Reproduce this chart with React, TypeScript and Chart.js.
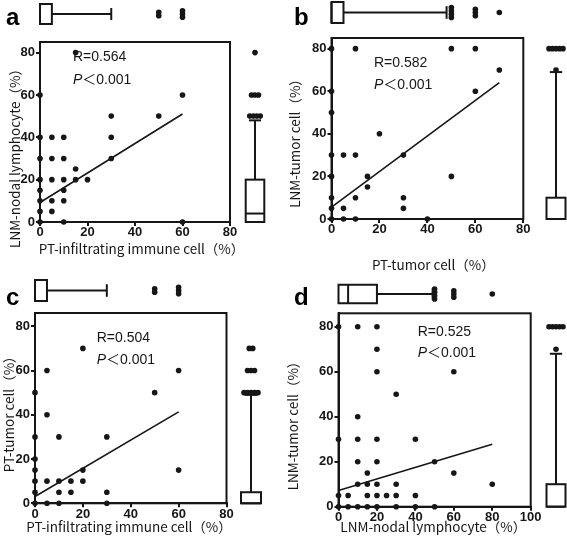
import React, { useEffect, useRef } from "react";
import { Chart, registerables } from "chart.js";
Chart.register(...registerables);

const W = 567;
const H = 542;

// ---------- Panel a : PT-infiltrating immune cell vs LNM-nodal lymphocyte ----------
const aX = [0, 0, 0, 0, 0, 0, 0, 0, 5, 5, 5, 5, 5, 10, 10, 10, 10, 10, 10, 15, 15, 15, 20, 30, 30, 30, 50, 60, 60];
const aY = [0, 5, 10, 15, 20, 30, 40, 60, 5, 10, 20, 30, 40, 0, 10, 15, 20, 30, 40, 20, 25, 80, 20, 30, 40, 50, 50, 0, 60];
const aFitX = [0, 60];
const aFitY = [9.2, 51];
const aTopBox = [0, 0, 0, 5, 30]; // low whisker, Q1, median, Q3, high whisker
const aTopOutliers = [50, 50, 60, 60, 60];
const aRightBox = [0, 0, 4, 20, 48];
const aRightOutliers = [50, 50, 50, 50, 60, 60, 60, 80];
const aXTicks = [0, 20, 40, 60, 80];
const aYTicks = [0, 20, 40, 60, 80];

// ---------- Panel b : PT-tumor cell vs LNM-tumor cell ----------
const bX = [0, 0, 0, 0, 0, 0, 0, 0, 5, 5, 5, 10, 10, 10, 10, 15, 15, 20, 30, 30, 30, 40, 50, 50, 60, 60, 70];
const bY = [0, 5, 10, 20, 30, 50, 60, 80, 0, 5, 30, 0, 10, 30, 80, 15, 20, 40, 5, 10, 30, 0, 20, 80, 60, 80, 70];
const bFitX = [0, 70];
const bFitY = [5.6, 64];
const bTopBox = [0, 0, 0, 5, 48];
const bTopOutliers = [50, 50, 50, 50, 60, 60, 60, 70];
const bRightBox = [0, 0, 0, 10, 69];
const bRightOutliers = [70, 80, 80, 80, 80, 80];
const bXTicks = [0, 20, 40, 60, 80];
const bYTicks = [0, 20, 40, 60, 80];

// ---------- Panel c : PT-infiltrating immune cell vs PT-tumor cell ----------
const cX = [0, 0, 0, 0, 0, 0, 0, 5, 5, 5, 5, 10, 10, 10, 10, 15, 15, 20, 20, 20, 30, 30, 30, 50, 60, 60];
const cY = [0, 5, 10, 15, 20, 30, 50, 0, 10, 40, 60, 0, 5, 10, 30, 5, 10, 10, 15, 70, 0, 5, 30, 50, 15, 60];
const cFitX = [0, 60];
const cFitY = [3.1, 41.3];
const cTopBox = [0, 0, 0, 5, 30];
const cTopOutliers = [50, 50, 60, 60, 60];
const cRightBox = [0, 0, 0, 5, 49];
const cRightOutliers = [50, 50, 50, 50, 50, 60, 60, 60, 70, 70];
const cXTicks = [0, 20, 40, 60, 80];
const cYTicks = [0, 20, 40, 60, 80];

// ---------- Panel d : LNM-nodal lymphocyte vs LNM-tumor cell ----------
const dX = [0, 0, 0, 0, 5, 5, 10, 10, 10, 10, 10, 10, 15, 15, 15, 15, 20, 20, 20, 20, 20, 20, 20, 20, 25, 30, 30, 30, 30, 40, 40, 40, 50, 50, 60, 60, 80];
const dY = [0, 5, 30, 80, 0, 5, 0, 10, 20, 30, 40, 80, 0, 5, 10, 15, 0, 5, 10, 20, 30, 60, 70, 80, 5, 0, 5, 10, 50, 0, 5, 30, 0, 20, 15, 60, 10];
const dFitX = [0, 80];
const dFitY = [7.2, 27.8];
const dTopBox = [0, 0, 5, 20, 49];
const dTopOutliers = [50, 50, 50, 50, 60, 60, 60, 80];
const dRightBox = [0, 0, 0, 10, 68];
const dRightOutliers = [70, 80, 80, 80, 80, 80];
const dXTicks = [0, 20, 40, 60, 80, 100];
const dYTicks = [0, 20, 40, 60, 80];

const TEXT_FONT = '"Liberation Sans", "Noto Sans CJK SC", sans-serif';
const TITLE_FONT = '"Noto Sans CJK SC", "Liberation Sans", sans-serif';
const INK = "#161616";

type Panel = {
  letter: string;
  xs: number[];
  ys: number[];
  fitX: number[];
  fitY: number[];
  xMax: number;
  yMax: number;
  xTicks: number[];
  yTicks: number[];
  topBox: number[];
  topOut: number[];
  rightBox: number[];
  rightOut: number[];
  xTitle: string;
  yTitle: string;
  r: string;
  p: string;
  // layout (pixels); title positions are alphabetic baselines
  area: { l: number; r: number; t: number; b: number };
  letterPos: [number, number];
  statPos: [number, number, number];
  xTitlePos: [number, number];
  yTitlePos: [number, number];
  topBoxY: number;
  topBoxH: number;
  rightBoxX: number;
  rightBoxW: number;
};

const panels: Panel[] = [
  {
    letter: "a", xs: aX, ys: aY, fitX: aFitX, fitY: aFitY, xMax: 80, yMax: 85,
    xTicks: aXTicks, yTicks: aYTicks, topBox: aTopBox, topOut: aTopOutliers,
    rightBox: aRightBox, rightOut: aRightOutliers,
    xTitle: "PT-infiltrating immune cell（%）", yTitle: "LNM-nodal lymphocyte（%）",
    r: "R=0.564", p: "＜0.001",
    area: { l: 40, r: 230, t: 42, b: 222 }, letterPos: [6, 25], statPos: [73, 57, 80],
    xTitlePos: [141.5, 253.5], yTitlePos: [19.5, 155], topBoxY: 14, topBoxH: 20, rightBoxX: 255, rightBoxW: 18.6,
  },
  {
    letter: "b", xs: bX, ys: bY, fitX: bFitX, fitY: bFitY, xMax: 80, yMax: 85,
    xTicks: bXTicks, yTicks: bYTicks, topBox: bTopBox, topOut: bTopOutliers,
    rightBox: bRightBox, rightOut: bRightOutliers,
    xTitle: "PT-tumor cell（%）", yTitle: "LNM-tumor cell（%）",
    r: "R=0.582", p: "＜0.001",
    area: { l: 331.5, r: 523.3, t: 38, b: 219 }, letterPos: [294, 25], statPos: [374, 63, 85],
    xTitlePos: [433.3, 270], yTitlePos: [299.5, 140], topBoxY: 12.5, topBoxH: 21, rightBoxX: 556, rightBoxW: 19,
  },
  {
    letter: "c", xs: cX, ys: cY, fitX: cFitX, fitY: cFitY, xMax: 80, yMax: 86,
    xTicks: cXTicks, yTicks: cYTicks, topBox: cTopBox, topOut: cTopOutliers,
    rightBox: cRightBox, rightOut: cRightOutliers,
    xTitle: "PT-infiltrating immune cell（%）", yTitle: "PT-tumor cell（%）",
    r: "R=0.504", p: "＜0.001",
    area: { l: 35, r: 226.5, t: 313, b: 503.3 }, letterPos: [6, 305], statPos: [96.7, 338.3, 360],
    xTitlePos: [129, 531.5], yTitlePos: [14, 410.8], topBoxY: 290.5, topBoxH: 21, rightBoxX: 251, rightBoxW: 20,
  },
  {
    letter: "d", xs: dX, ys: dY, fitX: dFitX, fitY: dFitY, xMax: 100, yMax: 86,
    xTicks: dXTicks, yTicks: dYTicks, topBox: dTopBox, topOut: dTopOutliers,
    rightBox: dRightBox, rightOut: dRightOutliers,
    xTitle: "LNM-nodal lymphocyte（%）", yTitle: "LNM-tumor cell（%）",
    r: "R=0.525", p: "＜0.001",
    area: { l: 338.5, r: 530.7, t: 313.3, b: 506.7 }, letterPos: [294, 305], statPos: [417.7, 331.7, 353.3],
    xTitlePos: [433.3, 532], yTitlePos: [298, 422.5], topBoxY: 294, topBoxH: 18.5, rightBoxX: 556, rightBoxW: 19,
  },
];

const Y_AXIS_W = 30;
const X_AXIS_H = 20;
const DOT_R = 2.8;

function groupCounts(vals: number[]) {
  const m = new Map<number, number>();
  vals.forEach((v) => m.set(v, (m.get(v) || 0) + 1));
  return Array.from(m.entries());
}

function line(ctx: CanvasRenderingContext2D, x1: number, y1: number, x2: number, y2: number) {
  ctx.beginPath();
  ctx.moveTo(x1, y1);
  ctx.lineTo(x2, y2);
  ctx.stroke();
}

function dot(ctx: CanvasRenderingContext2D, x: number, y: number) {
  ctx.beginPath();
  ctx.arc(x, y, DOT_R, 0, Math.PI * 2);
  ctx.fill();
}

function makePlugin(p: Panel) {
  return {
    id: "panelDecor" + p.letter,
    beforeDatasetsDraw(chart: any) {
      const { left, right, top, bottom } = chart.chartArea;
      const ctx = chart.ctx as CanvasRenderingContext2D;
      ctx.save();
      ctx.strokeStyle = INK;
      ctx.lineWidth = 2;
      ctx.strokeRect(left, top, right - left, bottom - top);
      ctx.restore();
    },
    afterDraw(chart: any) {
      const ctx = chart.ctx as CanvasRenderingContext2D;
      const xs = chart.scales.x;
      const ys = chart.scales.y;
      ctx.save();
      ctx.strokeStyle = INK;
      ctx.fillStyle = INK;
      ctx.lineWidth = 2;

      // ---- top (horizontal) box plot on x scale ----
      {
        const [lo, q1, med, q3, hi] = p.topBox;
        const px = (v: number) => xs.getPixelForValue(v);
        const cy = p.topBoxY;
        const h = p.topBoxH;
        const cap = h * 0.6;
        line(ctx, px(q3), cy, px(hi), cy);
        line(ctx, px(hi), cy - cap / 2, px(hi), cy + cap / 2);
        if (lo < q1) {
          line(ctx, px(lo), cy, px(q1), cy);
          line(ctx, px(lo), cy - cap / 2, px(lo), cy + cap / 2);
        }
        ctx.fillStyle = "#fff";
        ctx.fillRect(px(q1), cy - h / 2, px(q3) - px(q1), h);
        ctx.strokeRect(px(q1), cy - h / 2, px(q3) - px(q1), h);
        line(ctx, px(med), cy - h / 2, px(med), cy + h / 2);
        ctx.fillStyle = INK;
        groupCounts(p.topOut).forEach(([v, n]) => {
          for (let k = 0; k < n; k++) dot(ctx, px(v), cy + (k - (n - 1) / 2) * 3.3);
        });
      }

      // ---- right (vertical) box plot on y scale ----
      {
        const [lo, q1, med, q3, hi] = p.rightBox;
        const py = (v: number) => ys.getPixelForValue(v);
        const cx = p.rightBoxX;
        const w = p.rightBoxW;
        const cap = w * 0.65;
        line(ctx, cx, py(q3), cx, py(hi));
        line(ctx, cx - cap / 2, py(hi), cx + cap / 2, py(hi));
        if (lo < q1) {
          line(ctx, cx, py(lo), cx, py(q1));
          line(ctx, cx - cap / 2, py(lo), cx + cap / 2, py(lo));
        }
        ctx.fillStyle = "#fff";
        ctx.fillRect(cx - w / 2, py(q3), w, py(q1) - py(q3));
        ctx.strokeRect(cx - w / 2, py(q3), w, py(q1) - py(q3));
        line(ctx, cx - w / 2, py(med), cx + w / 2, py(med));
        ctx.fillStyle = INK;
        groupCounts(p.rightOut).forEach(([v, n]) => {
          for (let k = 0; k < n; k++) dot(ctx, cx + (k - (n - 1) / 2) * 3.5, py(v));
        });
      }

      // ---- panel letter ----
      ctx.fillStyle = "#000";
      ctx.font = 'bold 24px "Liberation Sans", sans-serif';
      ctx.textAlign = "left";
      ctx.textBaseline = "alphabetic";
      ctx.fillText(p.letter, p.letterPos[0], p.letterPos[1]);

      // ---- statistics ----
      ctx.fillStyle = INK;
      ctx.textBaseline = "middle";
      ctx.font = "14px " + TEXT_FONT;
      ctx.fillText(p.r, p.statPos[0], p.statPos[1]);
      ctx.font = "italic 14px " + TEXT_FONT;
      ctx.fillText("P", p.statPos[0], p.statPos[2]);
      const pw = ctx.measureText("P").width;
      ctx.font = "14px " + TEXT_FONT;
      ctx.fillText(p.p, p.statPos[0] + pw, p.statPos[2]);

      // ---- axis titles (alphabetic baselines) ----
      ctx.font = "13.5px " + TITLE_FONT;
      ctx.textAlign = "center";
      ctx.textBaseline = "alphabetic";
      ctx.fillText(p.xTitle, p.xTitlePos[0], p.xTitlePos[1]);
      ctx.save();
      ctx.translate(p.yTitlePos[0], p.yTitlePos[1]);
      ctx.rotate(-Math.PI / 2);
      ctx.fillText(p.yTitle, 0, 0);
      ctx.restore();

      ctx.restore();
    },
  };
}

function PanelChart({ panel }: { panel: Panel }) {
  const ref = useRef<HTMLCanvasElement>(null);
  useEffect(() => {
    const p = panel;
    const tickFont = { family: '"Liberation Sans", sans-serif', size: 13, weight: "bold" as const };
    const chart = new Chart(ref.current as HTMLCanvasElement, {
      type: "scatter",
      data: {
        datasets: [
          {
            data: p.xs.map((x, i) => ({ x, y: p.ys[i] })),
            pointRadius: DOT_R,
            pointBackgroundColor: INK,
            pointBorderWidth: 0,
            clip: false as any,
          },
          {
            data: p.fitX.map((x, i) => ({ x, y: p.fitY[i] })),
            showLine: true,
            pointRadius: 0,
            borderColor: INK,
            borderWidth: 1.6,
            clip: false as any,
          },
        ],
      },
      options: {
        animation: false,
        responsive: false,
        events: [],
        layout: {
          padding: {
            left: p.area.l - Y_AXIS_W,
            right: W - p.area.r,
            top: p.area.t,
            bottom: H - p.area.b - X_AXIS_H,
          },
        },
        plugins: { legend: { display: false }, tooltip: { enabled: false } },
        scales: {
          x: {
            type: "linear",
            min: 0,
            max: p.xMax,
            afterFit: (s: any) => {
              s.height = X_AXIS_H;
            },
            afterBuildTicks: (s: any) => {
              s.ticks = p.xTicks.map((v) => ({ value: v }));
            },
            grid: { display: true, drawOnChartArea: false, drawTicks: true, tickLength: 4, lineWidth: 2, color: INK },
            border: { display: true, width: 2, color: INK },
            ticks: { font: tickFont, color: INK, padding: -1, maxRotation: 0, autoSkip: false },
          },
          y: {
            type: "linear",
            min: 0,
            max: p.yMax,
            afterFit: (s: any) => {
              s.width = Y_AXIS_W;
            },
            afterBuildTicks: (s: any) => {
              s.ticks = p.yTicks.map((v) => ({ value: v }));
            },
            grid: { display: true, drawOnChartArea: false, drawTicks: true, tickLength: 4, lineWidth: 2, color: INK },
            border: { display: true, width: 2, color: INK },
            ticks: { font: tickFont, color: INK, padding: 1, autoSkip: false },
          },
        },
      },
      plugins: [makePlugin(p)],
    } as any);
    return () => chart.destroy();
  }, [panel]);
  return (
    <canvas
      ref={ref}
      width={W}
      height={H}
      style={{ position: "absolute", left: 0, top: 0, width: W, height: H }}
    />
  );
}

export default function App() {
  return (
    <div style={{ position: "fixed", left: 0, top: 0, width: W, height: H, background: "#fff", overflow: "hidden" }}>
      {panels.map((p) => (
        <PanelChart key={p.letter} panel={p} />
      ))}
    </div>
  );
}
